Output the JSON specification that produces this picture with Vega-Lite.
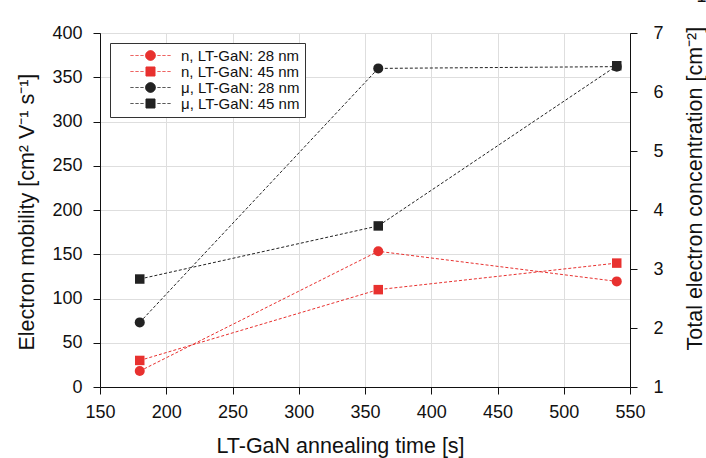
{
  "$schema": "https://vega.github.io/schema/vega-lite/v6.json",
  "width": 530,
  "height": 354,
  "autosize": {"type": "none"},
  "padding": {"left": 100, "top": 33, "right": 76, "bottom": 71},
  "background": "white",
  "title": {"text": "× 10¹²", "anchor": "end", "font": "Liberation Sans", "fontSize": 18, "fontWeight": "normal", "color": "#111111", "dx": 23, "offset": 4, "baseline": "alphabetic"},
  "config": {
    "font": "Liberation Sans",
    "view": {"stroke": "#111111", "strokeWidth": 1},
    "axis": {
      "labelFont": "Liberation Sans",
      "labelFontSize": 18,
      "labelColor": "#111111",
      "labelFlush": false,
      "titleFont": "Liberation Sans",
      "titleFontSize": 21.5,
      "titleFontWeight": "normal",
      "titleColor": "#111111",
      "domainColor": "#111111",
      "tickColor": "#111111",
      "gridColor": "#dedede",
      "gridWidth": 1,
      "domainWidth": 1,
      "tickWidth": 1
    }
  },
  "data": {
    "values": [
      {"series": "n, LT-GaN: 28 nm", "q": "n", "nm": 28, "t": 180, "v": 1.27},
      {"series": "n, LT-GaN: 28 nm", "q": "n", "nm": 28, "t": 360, "v": 3.3},
      {"series": "n, LT-GaN: 28 nm", "q": "n", "nm": 28, "t": 540, "v": 2.79},
      {"series": "n, LT-GaN: 45 nm", "q": "n", "nm": 45, "t": 180, "v": 1.45},
      {"series": "n, LT-GaN: 45 nm", "q": "n", "nm": 45, "t": 360, "v": 2.65},
      {"series": "n, LT-GaN: 45 nm", "q": "n", "nm": 45, "t": 540, "v": 3.1},
      {"series": "μ, LT-GaN: 28 nm", "q": "mu", "nm": 28, "t": 180, "v": 73},
      {"series": "μ, LT-GaN: 28 nm", "q": "mu", "nm": 28, "t": 360, "v": 360},
      {"series": "μ, LT-GaN: 28 nm", "q": "mu", "nm": 28, "t": 540, "v": 362},
      {"series": "μ, LT-GaN: 45 nm", "q": "mu", "nm": 45, "t": 180, "v": 122},
      {"series": "μ, LT-GaN: 45 nm", "q": "mu", "nm": 45, "t": 360, "v": 182},
      {"series": "μ, LT-GaN: 45 nm", "q": "mu", "nm": 45, "t": 540, "v": 363}
    ]
  },
  "layer": [
    {
      "transform": [{"filter": "datum.q === 'mu'"}],
      "layer": [
        {
          "mark": {"type": "line", "strokeDash": [3, 2], "strokeWidth": 1},
          "encoding": {
            "x": {
              "field": "t", "type": "quantitative",
              "scale": {"domain": [150, 550], "nice": false, "zero": false},
              "axis": {
                "values": [150, 200, 250, 300, 350, 400, 450, 500, 550],
                "tickSize": 7, "grid": true, "labelPadding": 9,
                "title": "LT-GaN annealing time [s]", "titleX": 240, "titleY": 65, "titleAlign": "center", "titleBaseline": "alphabetic", "titleAngle": 0
              }
            },
            "y": {
              "field": "v", "type": "quantitative",
              "scale": {"domain": [0, 400], "nice": false, "zero": false},
              "axis": {
                "orient": "left",
                "values": [0, 50, 100, 150, 200, 250, 300, 350, 400],
                "tickSize": 7, "grid": true, "labelPadding": 11,
                "title": "Electron mobility [cm² V⁻¹ s⁻¹]", "titleAngle": 270, "titleAlign": "left", "titleBaseline": "alphabetic", "titleX": -67, "titleY": 317
              }
            },
            "color": {
              "field": "series", "type": "nominal",
              "scale": {"domain": ["n, LT-GaN: 28 nm", "n, LT-GaN: 45 nm", "μ, LT-GaN: 28 nm", "μ, LT-GaN: 45 nm"], "range": ["#e8312f", "#e8312f", "#222222", "#222222"]},
              "legend": {
                "orient": "top-left", "offset": 10, "title": null,
                "fillColor": "white", "strokeColor": "#333333", "padding": 5,
                "labelFont": "Liberation Sans", "labelFontSize": 15, "labelColor": "#111111",
                "symbolSize": 196, "symbolOffset": 28, "labelOffset": 23, "rowPadding": 0,
                "symbolStrokeWidth": 1,
                "encode": {
                  "symbols": {
                    "update": {
                      "shape": {"signal": "indexof(datum.value, '28') >= 0 ? 'M-2.857,0L-2.43,0M-2.14,0L-1.71,0M-1.43,0L-1,0M1,0L1.43,0M1.71,0L2.14,0M2.43,0L2.857,0M0.714,0L0.618,0.357L0.357,0.618L0,0.714L-0.357,0.618L-0.618,0.357L-0.714,0L-0.618,-0.357L-0.357,-0.618L0,-0.714L0.357,-0.618L0.618,-0.357Z' : 'M-2.857,0L-2.43,0M-2.14,0L-1.71,0M-1.43,0L-1,0M1,0L1.43,0M1.71,0L2.14,0M2.43,0L2.857,0M-0.643,-0.643L0.643,-0.643L0.643,0.643L-0.643,0.643Z'"},
                      "fill": {"scale": "color", "field": "value"},
                      "stroke": {"scale": "color", "field": "value"},
                      "strokeWidth": {"value": 1},
                      "strokeDash": {"value": [1, 0]},
                      "opacity": {"value": 1}
                    }
                  }
                }
              }
            }
          }
        },
        {
          "transform": [{"filter": "datum.nm === 28"}],
          "mark": {"type": "point", "shape": "circle", "filled": true, "size": 100, "opacity": 1},
          "encoding": {
            "x": {"field": "t", "type": "quantitative"},
            "y": {"field": "v", "type": "quantitative"},
            "color": {"field": "series", "type": "nominal"}
          }
        },
        {
          "transform": [{"filter": "datum.nm === 45"}],
          "mark": {"type": "point", "shape": "square", "filled": true, "size": 90, "opacity": 1},
          "encoding": {
            "x": {"field": "t", "type": "quantitative"},
            "y": {"field": "v", "type": "quantitative"},
            "color": {"field": "series", "type": "nominal"}
          }
        }
      ]
    },
    {
      "transform": [{"filter": "datum.q === 'n'"}],
      "layer": [
        {
          "mark": {"type": "line", "strokeDash": [3, 2], "strokeWidth": 1},
          "encoding": {
            "x": {"field": "t", "type": "quantitative"},
            "y": {
              "field": "v", "type": "quantitative",
              "scale": {"domain": [1, 7], "nice": false, "zero": false},
              "axis": {
                "orient": "right",
                "values": [1, 2, 3, 4, 5, 6, 7],
                "format": "d",
                "tickSize": 7, "grid": false, "labelPadding": 16,
                "title": "Total electron concentration [cm⁻²]", "titleAngle": 270, "titleAlign": "left", "titleBaseline": "alphabetic", "titleX": 71, "titleY": 317
              }
            },
            "color": {"field": "series", "type": "nominal"}
          }
        },
        {
          "transform": [{"filter": "datum.nm === 28"}],
          "mark": {"type": "point", "shape": "circle", "filled": true, "size": 100, "opacity": 1},
          "encoding": {
            "x": {"field": "t", "type": "quantitative"},
            "y": {"field": "v", "type": "quantitative"},
            "color": {"field": "series", "type": "nominal"}
          }
        },
        {
          "transform": [{"filter": "datum.nm === 45"}],
          "mark": {"type": "point", "shape": "square", "filled": true, "size": 90, "opacity": 1},
          "encoding": {
            "x": {"field": "t", "type": "quantitative"},
            "y": {"field": "v", "type": "quantitative"},
            "color": {"field": "series", "type": "nominal"}
          }
        }
      ]
    }
  ],
  "resolve": {"scale": {"y": "independent"}}
}
